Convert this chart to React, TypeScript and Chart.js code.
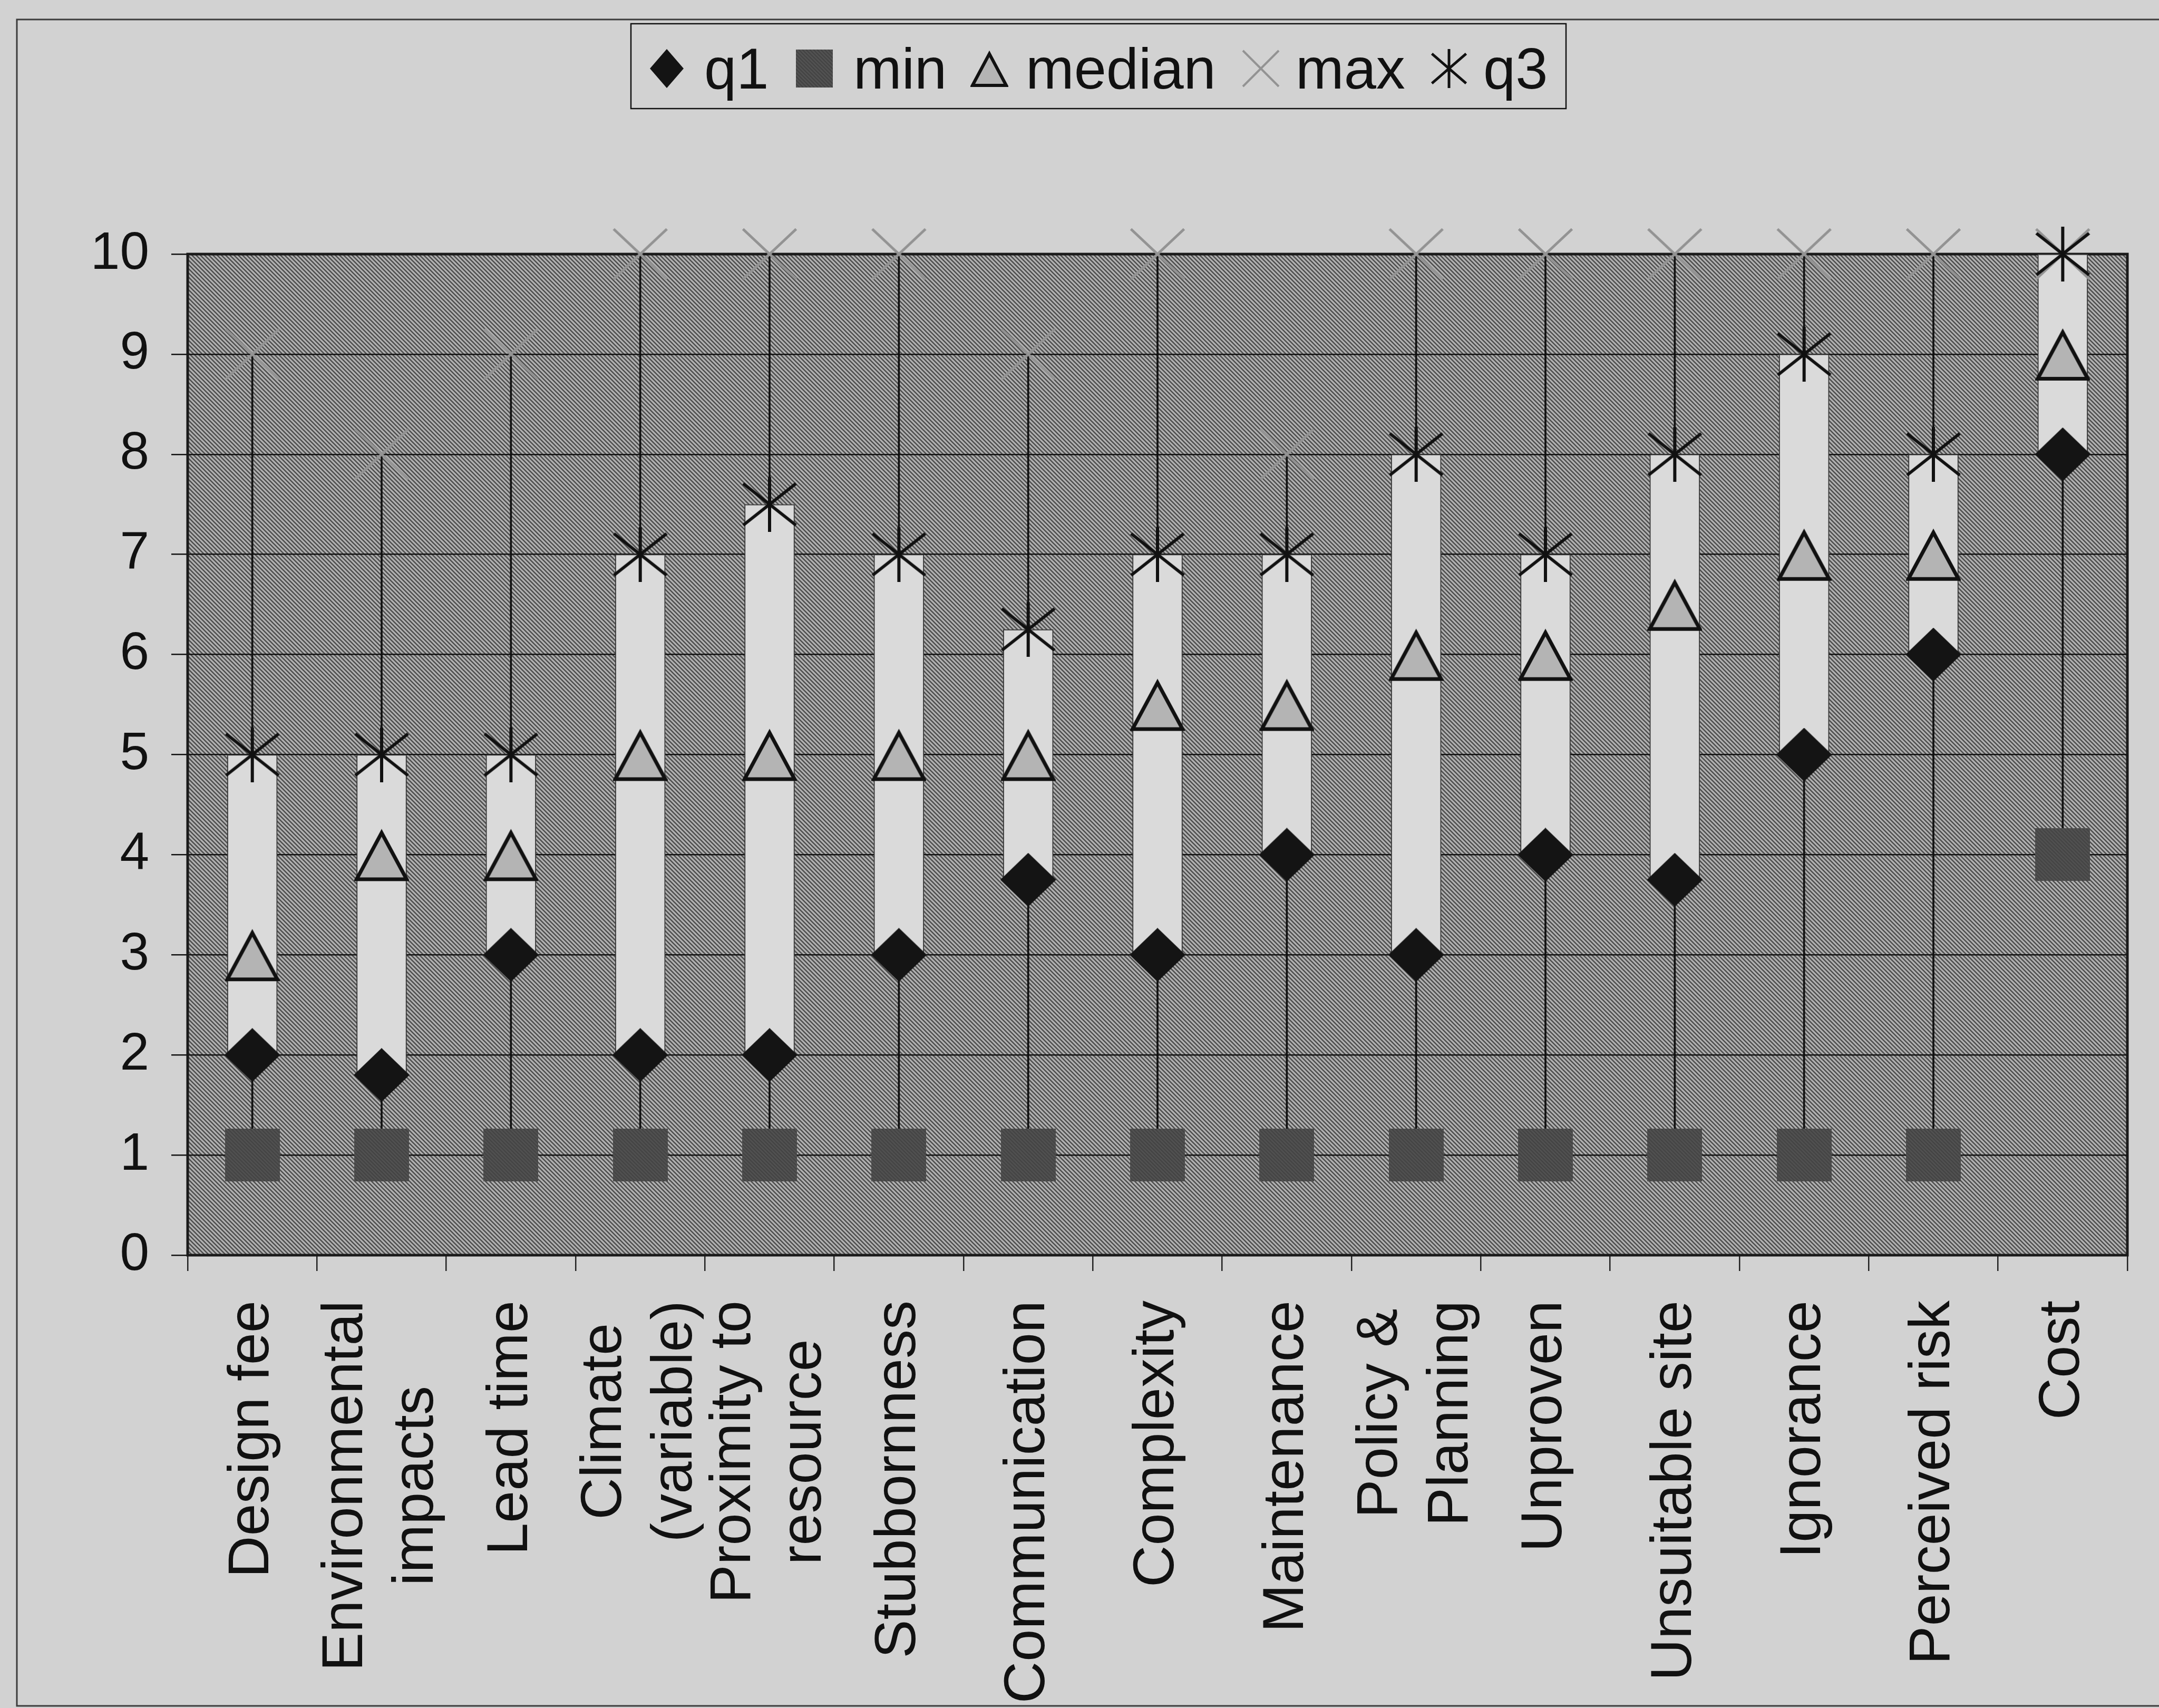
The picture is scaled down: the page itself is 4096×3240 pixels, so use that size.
import React, { useEffect, useRef } from 'react';
import { Chart, registerables } from 'chart.js';

Chart.register(...registerables);

// ---------------- data ----------------
const categories = [
  'Design fee', 'Environmental impacts', 'Lead time', 'Climate (variable)', 'Proximity to resource',
  'Stubbornness', 'Communication', 'Complexity', 'Maintenance', 'Policy & Planning',
  'Unproven', 'Unsuitable site', 'Ignorance', 'Perceived risk', 'Cost',
];
const categoryLines = [
  ['Design fee'], ['Environmental', 'impacts'], ['Lead time'], ['Climate', '(variable)'], ['Proximity to', 'resource'],
  ['Stubbornness'], ['Communication'], ['Complexity'], ['Maintenance'], ['Policy &', 'Planning'],
  ['Unproven'], ['Unsuitable site'], ['Ignorance'], ['Perceived risk'], ['Cost'],
];
const minValues = [1, 1, 1, 1, 1, 1, 1, 1, 1, 1, 1, 1, 1, 1, 4];
const q1Values = [2, 1.8, 3, 2, 2, 3, 3.75, 3, 4, 3, 4, 3.75, 5, 6, 8];
const medianValues = [3, 4, 4, 5, 5, 5, 5, 5.5, 5.5, 6, 6, 6.5, 7, 7, 9];
const q3Values = [5, 5, 5, 7, 7.5, 7, 6.25, 7, 7, 8, 7, 8, 9, 8, 10];
const maxValues = [9, 8, 9, 10, 10, 10, 9, 10, 8, 10, 10, 10, 10, 10, 10];
const yMin = 0;
const yMax = 10;
const yStep = 1;
const legendLabels = ['q1', 'min', 'median', 'max', 'q3'];

// ---------------- layout / style ----------------
const W = 4096;
const H = 3240;
const PAGE_BG = '#d2d2d2';
const FONT = '"Liberation Sans", Arial, Helvetica, sans-serif';

function makeCanvas(w: number, h: number, draw: (g: CanvasRenderingContext2D) => void) {
  const c = document.createElement('canvas');
  c.width = w;
  c.height = h;
  const g = c.getContext('2d') as CanvasRenderingContext2D;
  draw(g);
  return c;
}

function diamond(w: number, h: number) {
  return makeCanvas(w, h, (g) => {
    g.fillStyle = '#141414';
    g.beginPath();
    g.moveTo(w / 2, 0);
    g.lineTo(w, h / 2);
    g.lineTo(w / 2, h);
    g.lineTo(0, h / 2);
    g.closePath();
    g.fill();
  });
}

function square(w: number, h: number) {
  return makeCanvas(w, h, (g) => {
    g.fillStyle = '#525252';
    g.fillRect(0, 0, w, h);
    g.strokeStyle = 'rgba(40,40,40,0.35)';
    g.lineWidth = 2;
    for (let k = -h; k < w + h; k += 7) {
      g.beginPath();
      g.moveTo(k, 0);
      g.lineTo(k + h, h);
      g.stroke();
    }
  });
}

function triangle(w: number, h: number, lw: number) {
  return makeCanvas(w, h, (g) => {
    g.lineJoin = 'miter';
    g.lineWidth = lw;
    const p = lw / 2 + 1;
    g.beginPath();
    g.moveTo(w / 2, lw * 1.35);
    g.lineTo(w - p, h - p);
    g.lineTo(p, h - p);
    g.closePath();
    g.fillStyle = '#b4b4b4';
    g.fill();
    g.strokeStyle = '#111';
    g.stroke();
  });
}

function xMark(w: number, h: number, lw: number, color: string) {
  return makeCanvas(w, h, (g) => {
    g.strokeStyle = color;
    g.lineWidth = lw;
    g.beginPath();
    g.moveTo(lw / 2, lw / 2);
    g.lineTo(w - lw / 2, h - lw / 2);
    g.moveTo(w - lw / 2, lw / 2);
    g.lineTo(lw / 2, h - lw / 2);
    g.stroke();
  });
}

function asterisk(w: number, h: number, lw: number) {
  return makeCanvas(w, h, (g) => {
    g.strokeStyle = '#111';
    g.lineWidth = lw;
    g.beginPath();
    g.moveTo(lw / 2, h * 0.12);
    g.lineTo(w - lw / 2, h * 0.88);
    g.moveTo(w - lw / 2, h * 0.12);
    g.lineTo(lw / 2, h * 0.88);
    g.moveTo(w / 2, 0);
    g.lineTo(w / 2, h);
    g.stroke();
  });
}

function hatchPattern(ctx: CanvasRenderingContext2D) {
  const s = 8;
  const tile = makeCanvas(s, s, (g) => {
    g.fillStyle = '#b2b2b2';
    g.fillRect(0, 0, s, s);
    g.strokeStyle = '#4e4e4e';
    g.lineWidth = 2.6;
    g.beginPath();
    for (let k = -1; k <= 1; k++) {
      g.moveTo(k * s - 1, -1);
      g.lineTo(k * s + s + 1, s + 1);
    }
    g.stroke();
  });
  return ctx.createPattern(tile, 'repeat') as CanvasPattern;
}

export default function App() {
  const ref = useRef<HTMLCanvasElement>(null);

  useEffect(() => {
    const canvas = ref.current as HTMLCanvasElement;
    const ctx = canvas.getContext('2d') as CanvasRenderingContext2D;

    const mk = {
      q1: diamond(106, 102),
      min: square(104, 100),
      median: triangle(104, 102, 7),
      max: xMark(106, 100, 5, '#939393'),
      q3: asterisk(106, 104, 6),
    };
    const lg = {
      q1: diamond(64, 74),
      min: square(70, 72),
      median: triangle(72, 72, 6),
      max: xMark(72, 72, 4, '#939393'),
      q3: asterisk(70, 74, 5),
    };
    const legendItems = [
      { img: lg.q1, cx: 1265, tx: 1336, text: legendLabels[0] },
      { img: lg.min, cx: 1545, tx: 1619, text: legendLabels[1] },
      { img: lg.median, cx: 1877, tx: 1946, text: legendLabels[2] },
      { img: lg.max, cx: 2392, tx: 2458, text: legendLabels[3] },
      { img: lg.q3, cx: 2749, tx: 2814, text: legendLabels[4] },
    ];

    const decor = {
      id: 'decor',
      beforeDraw(chart: any) {
        const c = chart.ctx as CanvasRenderingContext2D;
        const a = chart.chartArea;
        c.save();
        c.fillStyle = PAGE_BG;
        c.fillRect(0, 0, W, H);
        c.strokeStyle = '#3c3c3c';
        c.lineWidth = 3;
        c.strokeRect(32, 37, W + 40, H - 37 - 4);
        c.fillStyle = hatchPattern(c);
        c.fillRect(a.left, a.top, a.right - a.left, a.bottom - a.top);
        c.restore();
      },
      beforeDatasetsDraw(chart: any) {
        const c = chart.ctx as CanvasRenderingContext2D;
        const a = chart.chartArea;
        c.save();
        c.strokeStyle = '#1a1a1a';
        c.lineWidth = 5;
        c.strokeRect(a.left, a.top, a.right - a.left, a.bottom - a.top);
        c.restore();
      },
      afterDraw(chart: any) {
        const c = chart.ctx as CanvasRenderingContext2D;
        const a = chart.chartArea;
        const xs = chart.scales.x;
        c.save();
        // category labels (rotated, centred lines, block top-aligned under the axis)
        c.fillStyle = '#111';
        c.font = `110px ${FONT}`;
        c.textAlign = 'center';
        c.textBaseline = 'middle';
        const top = a.bottom + 86;
        const lineH = 134;
        categoryLines.forEach((lines, i) => {
          const cx = xs.getPixelForValue(i);
          const L = Math.max(...lines.map((t) => c.measureText(t).width));
          lines.forEach((t, j) => {
            const x = cx + (j - (lines.length - 1) / 2) * lineH;
            c.save();
            c.translate(x, top + L / 2);
            c.rotate(-Math.PI / 2);
            c.fillText(t, 0, 0);
            c.restore();
          });
        });
        // legend
        c.strokeStyle = '#111';
        c.lineWidth = 2.5;
        c.strokeRect(1197, 45, 1774, 161);
        c.textAlign = 'left';
        c.textBaseline = 'alphabetic';
        c.font = `110px ${FONT}`;
        legendItems.forEach((it) => {
          c.drawImage(it.img, it.cx - it.img.width / 2, 130 - it.img.height / 2);
          c.fillText(it.text, it.tx, 168);
        });
        c.restore();
      },
    };

    const pointDs = (label: string, data: number[], img: HTMLCanvasElement, order: number) => ({
      type: 'line' as const,
      label,
      data,
      showLine: false,
      pointStyle: img,
      pointRadius: 5,
      pointHoverRadius: 5,
      clip: false,
      order,
    });

    const chart = new Chart(ctx, {
      type: 'bar',
      data: {
        labels: categories,
        datasets: [
          {
            type: 'bar',
            label: 'range',
            data: categories.map((_, i) => [minValues[i], maxValues[i]]) as any,
            backgroundColor: '#111',
            barThickness: 3,
            grouped: false,
            order: 10,
          } as any,
          {
            type: 'bar',
            label: 'box',
            data: categories.map((_, i) => [q1Values[i], q3Values[i]]) as any,
            backgroundColor: '#dadada',
            borderColor: '#3a3a3a',
            borderWidth: 2,
            borderSkipped: false,
            barThickness: 95,
            grouped: false,
            order: 9,
          } as any,
          pointDs('min', minValues, mk.min, 5) as any,
          pointDs('q1', q1Values, mk.q1, 4) as any,
          pointDs('median', medianValues, mk.median, 3) as any,
          pointDs('max', maxValues, mk.max, 2) as any,
          pointDs('q3', q3Values, mk.q3, 1) as any,
        ],
      },
      options: {
        responsive: false,
        animation: false,
        devicePixelRatio: 1,
        events: [],
        layout: { padding: { top: 482, right: 60, left: 0, bottom: 0 } },
        plugins: { legend: { display: false }, tooltip: { enabled: false } },
        scales: {
          x: {
            type: 'category',
            offset: true,
            grid: { offset: true, drawOnChartArea: false, drawTicks: true, tickLength: 30, color: '#222', lineWidth: 2.5 },
            border: { display: false },
            ticks: { display: false },
            afterFit: (s: any) => { s.height = 859; },
          },
          y: {
            type: 'linear',
            min: yMin,
            max: yMax,
            ticks: { stepSize: yStep, padding: 42, color: '#111', font: { family: FONT, size: 100 } },
            grid: { color: '#111', lineWidth: 2.5, tickLength: 31, drawTicks: true },
            border: { display: false },
            afterFit: (s: any) => { s.width = 356; },
          },
        },
      } as any,
      plugins: [decor],
    });

    return () => chart.destroy();
  }, []);

  return (
    <div style={{ position: 'absolute', left: 0, top: 0, width: W, height: H, background: PAGE_BG }}>
      <canvas ref={ref} width={W} height={H} style={{ width: W, height: H, display: 'block' }} />
    </div>
  );
}
